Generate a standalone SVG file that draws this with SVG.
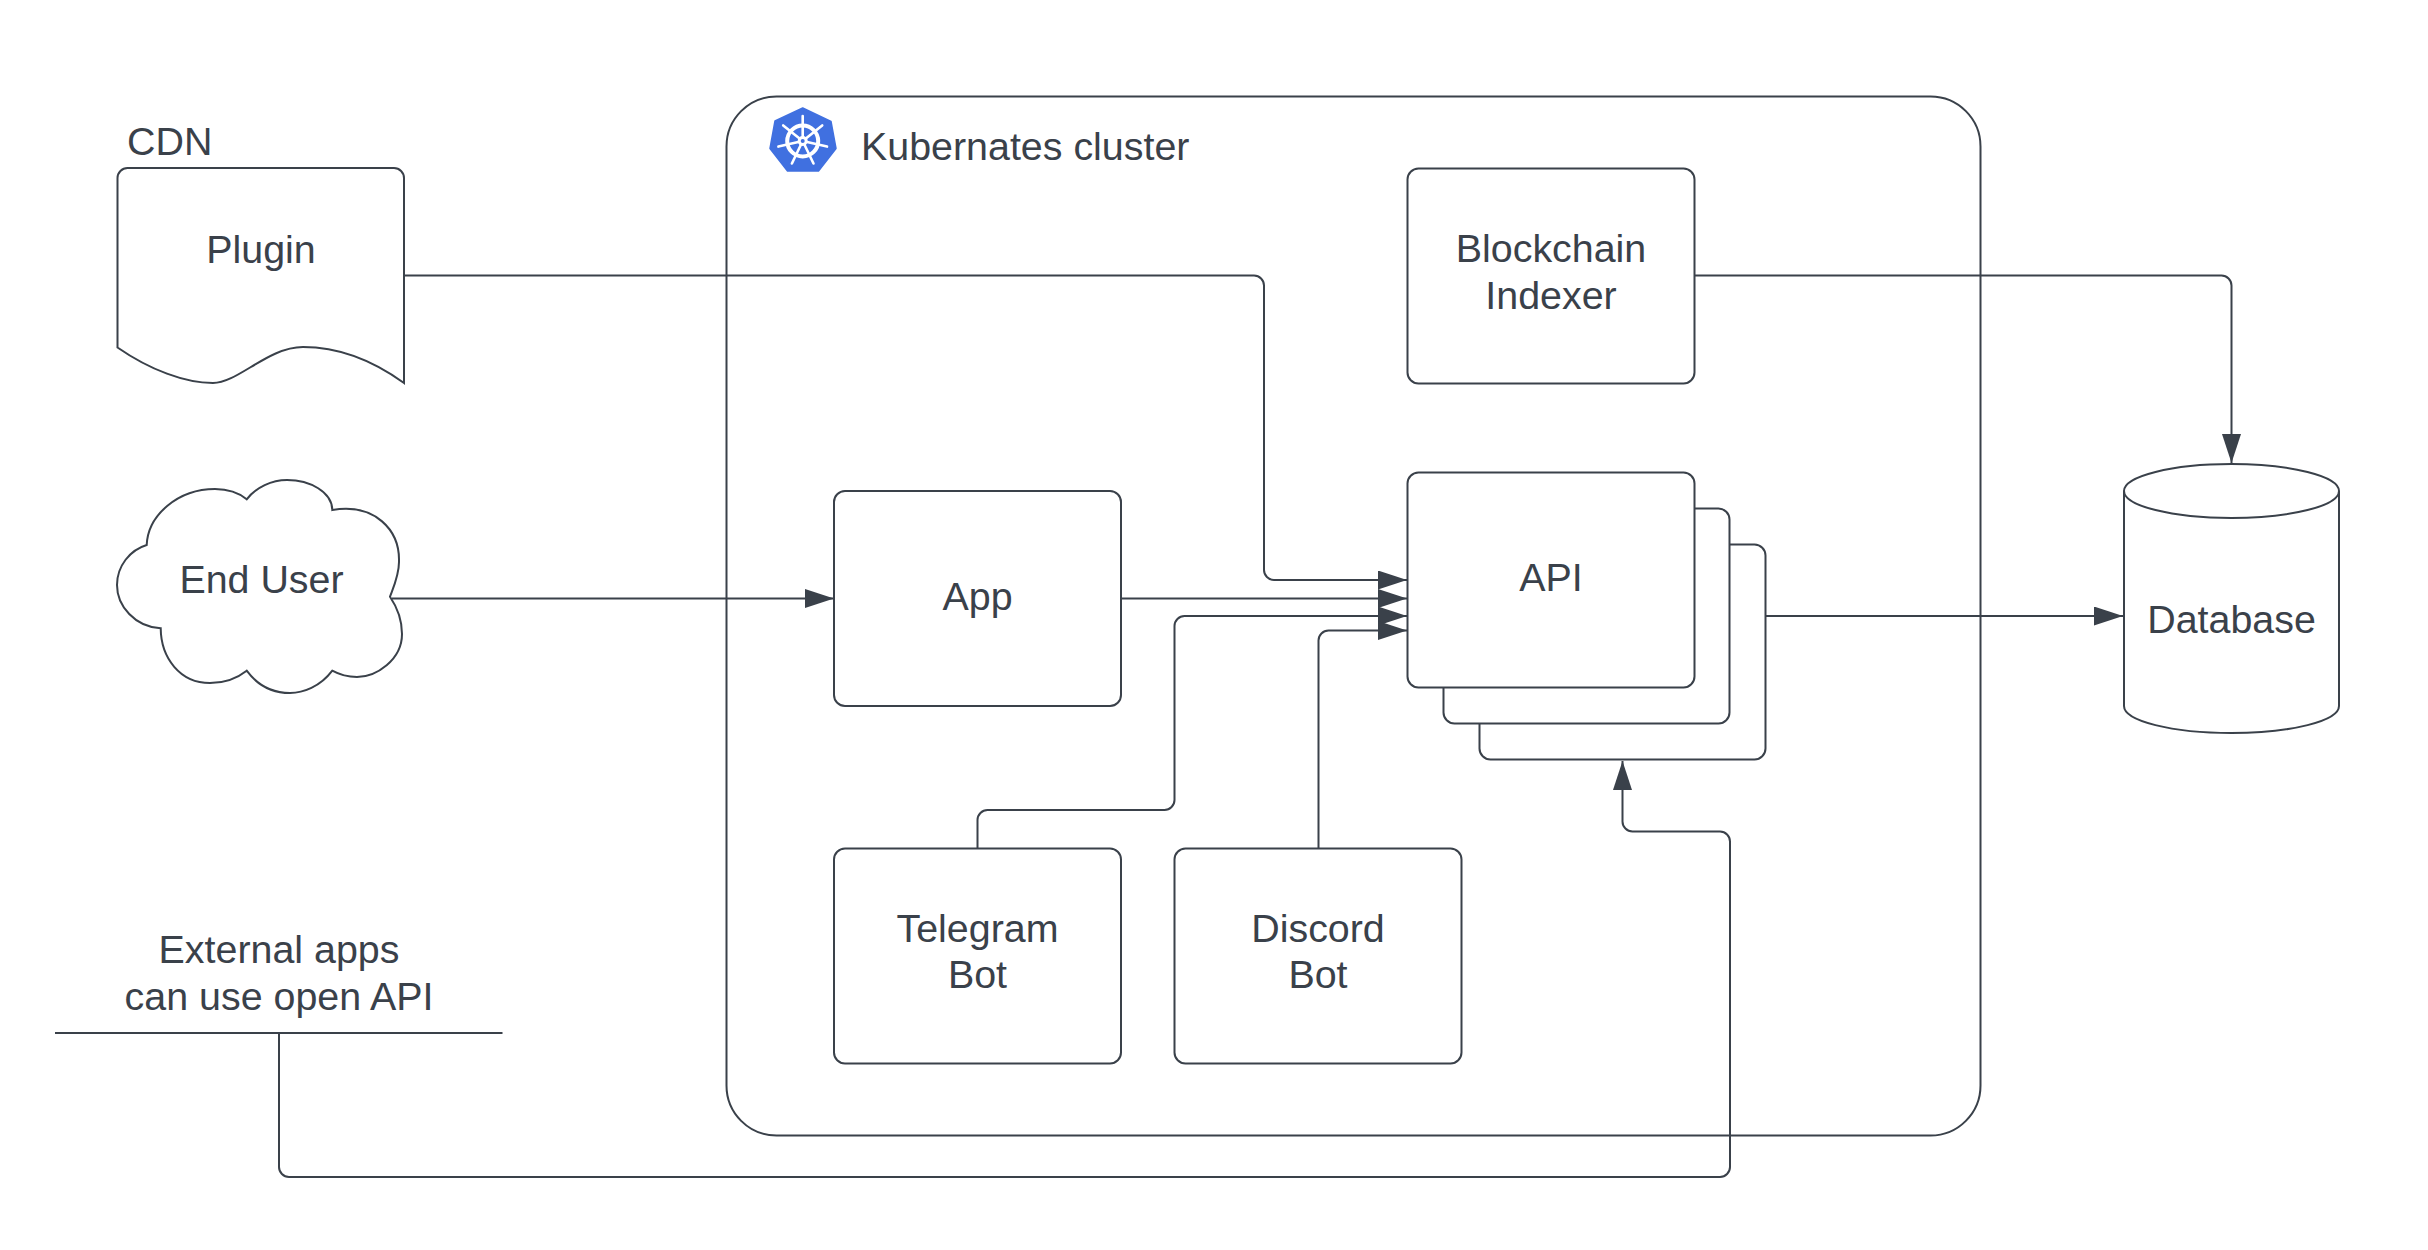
<svg xmlns="http://www.w3.org/2000/svg" width="2428" height="1250" viewBox="0 0 2428 1250">
<style>
.s{fill:#fff;stroke:#3a414a;stroke-width:2}
.c{fill:none;stroke:#3a414a;stroke-width:2}
text{font-family:"Liberation Sans",Arial,sans-serif;font-size:39.4px;fill:#3a414a;text-anchor:middle}
.l{text-anchor:start}
</style>
<defs>
<marker id="a" markerUnits="userSpaceOnUse" markerWidth="30" markerHeight="20" refX="29" refY="9.5" orient="auto"><path d="M0 0L29 9.5L0 19Z" fill="#3a414a"/></marker>
</defs>
<rect width="2428" height="1250" fill="#fff"/>
<g id="cluster">
<rect class="s" x="726.5" y="96.5" width="1254" height="1039" rx="50"/>
<g id="k8s-logo">
<path d="M802.7 108L831 121.5L836 148.5L818.5 171H787.5L770 148.5L775 121Z" fill="#4070e0" stroke="#4070e0" stroke-width="1.5" stroke-linejoin="round"/>
<circle cx="802.7" cy="141" r="15.5" fill="none" stroke="#fff" stroke-width="4"/>
<g stroke="#fff" stroke-width="2.6" stroke-linecap="round">
<path d="M802.7 141V116"/>
<path d="M802.7 141L822.2 125.4"/>
<path d="M802.7 141L827 146.6"/>
<path d="M802.7 141L813.5 163.5"/>
<path d="M802.7 141L791.9 163.5"/>
<path d="M802.7 141L778.4 146.6"/>
<path d="M802.7 141L783.2 125.4"/>
</g>
<circle cx="802.7" cy="141" r="5" fill="#fff"/>
<circle cx="802.7" cy="141" r="2" fill="#4070e0"/>
</g>
<text class="l" x="861" y="160">Kubernates cluster</text>
</g>
<g id="connectors">
<path class="c" marker-end="url(#a)" d="M404 275.5H1254a10 10 0 0 1 10 10V570a10 10 0 0 0 10 10H1407"/>
<path class="c" marker-end="url(#a)" d="M392 598.5H834"/>
<path class="c" marker-end="url(#a)" d="M1121 598.5H1407"/>
<path class="c" marker-end="url(#a)" d="M977.5 848.5V820a10 10 0 0 1 10-10H1164.5a10 10 0 0 0 10-10V626a10 10 0 0 1 10-10H1407"/>
<path class="c" marker-end="url(#a)" d="M1318.5 848.5V640.5a10 10 0 0 1 10-10H1407"/>
<path class="c" marker-end="url(#a)" d="M1694 275.5H2221.5a10 10 0 0 1 10 10V463"/>
<path class="c" marker-end="url(#a)" d="M1765.5 616H2123"/>
<path class="c" marker-end="url(#a)" d="M279 1033V1167a10 10 0 0 0 10 10H1720a10 10 0 0 0 10-10V841.5a10 10 0 0 0-10-10H1632.5a10 10 0 0 1-10-10V761"/>
</g>
<g id="plugin">
<path class="s" d="M117.5 178a10 10 0 0 1 10-10H394a10 10 0 0 1 10 10V383C375 362 340 347 303 347C268 347 238 383 213 383C185 383 150 370 117.5 347.5Z"/>
<text x="261" y="263">Plugin</text>
</g>
<text id="cdn" class="l" x="127" y="155">CDN</text>
<g id="end-user">
<path class="s" d="M246.7 499.3C256 487 272 480 287 480C310 480 332 492 332.3 510C375 503 400 530 399 562C399 575 394 586 390 596.7C397 607 402 620 402 634C402 660 376 677 357 677C348 677 340 675 332.3 670.7C320 687 303 693 290 693C274 693 258 686 246.7 670.7C235 680 222 683 210 683C180 683 161 658 160.7 628.3C135 627 117 606 117 585C117 566 130 550 146.7 545C148 515 178 489 215 489C226 489 238 492 246.7 499.3Z"/>
<text x="261.5" y="593">End User</text>
</g>
<g id="blockchain">
<rect class="s" x="1407.5" y="168.5" width="287" height="215" rx="11"/>
<text x="1551" y="262">Blockchain</text>
<text x="1551" y="308.5">Indexer</text>
</g>
<g id="api">
<rect class="s" x="1479.5" y="544.5" width="286" height="215" rx="11"/>
<rect class="s" x="1443.5" y="508.5" width="286" height="215" rx="11"/>
<rect class="s" x="1407.5" y="472.5" width="287" height="215" rx="11"/>
<text x="1551" y="591">API</text>
</g>
<g id="app">
<rect class="s" x="834" y="491" width="287" height="215" rx="11"/>
<text x="977.5" y="610">App</text>
</g>
<g id="telegram">
<rect class="s" x="834" y="848.5" width="287" height="215" rx="11"/>
<text x="977.5" y="941.5">Telegram</text>
<text x="977.5" y="988">Bot</text>
</g>
<g id="discord">
<rect class="s" x="1174.5" y="848.5" width="287" height="215" rx="11"/>
<text x="1318" y="941.5">Discord</text>
<text x="1318" y="988">Bot</text>
</g>
<g id="database">
<path class="s" d="M2124 491V706C2124 721 2172 733 2231.5 733C2291 733 2339 721 2339 706V491"/>
<ellipse class="s" cx="2231.5" cy="491" rx="107.5" ry="27"/>
<text x="2231.5" y="633">Database</text>
</g>
<g id="external">
<path class="c" d="M55 1033H502.5"/>
<text x="279" y="963">External apps</text>
<text x="279" y="1009.5">can use open API</text>
</g>
</svg>
